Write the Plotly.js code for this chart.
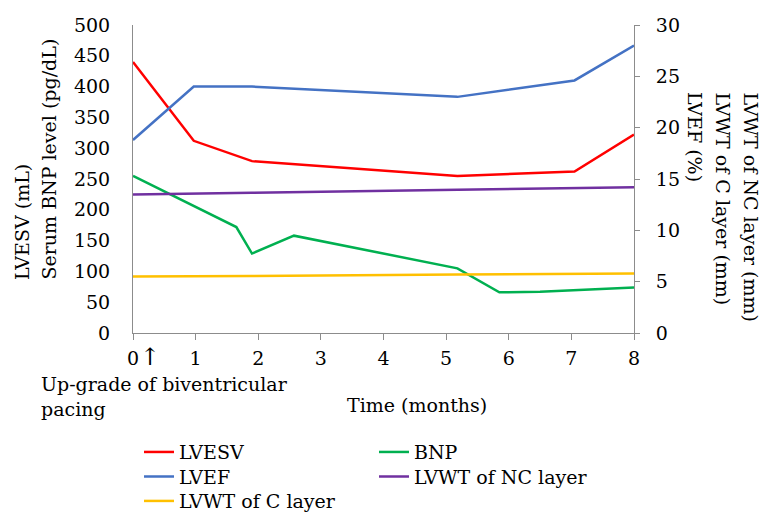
<!DOCTYPE html>
<html>
<head>
<meta charset="utf-8">
<script src="https://cdn.plot.ly/plotly-3.0.1.min.js"></script>
<style>html,body{margin:0;padding:0;background:#fff;}#chart{width:761px;height:515px;}</style>
</head>
<body>
<div id="chart"></div>
<script>
// Time points (months)
const monthsMain = [0, 0.97, 1.9, 5.18, 7.05, 8];
const monthsBNP = [0, 1.65, 1.9, 2.57, 5.18, 5.85, 6.5, 7.05, 8];
// Series values
const lvesv = [440, 312, 279, 255, 262, 322];          // mL (left axis)
const bnp = [255, 172, 129, 158, 105, 66, 67, 70, 74]; // pg/dL (left axis)
const lvef = [18.8, 24.0, 24.0, 23.0, 24.6, 28.0];     // % (right axis)
const lvwtNC = [13.5, 13.6, 13.65, 13.95, 14.1, 14.2]; // mm (right axis)
const lvwtC = [5.5, 5.52, 5.55, 5.7, 5.78, 5.8];       // mm (right axis)
// Tick labels
const xTicks = [0, 1, 2, 3, 4, 5, 6, 7, 8];
const leftTicks = [0, 50, 100, 150, 200, 250, 300, 350, 400, 450, 500];
const rightTicks = [0, 5, 10, 15, 20, 25, 30];

const FONT = 'DejaVu Serif, serif';
const FS = 19;
const W = 2.5;
const LEGW = 190;

const traces = [
  {x: monthsMain, y: lvesv, name: 'LVESV', mode: 'lines', line: {color: '#FF0000', width: W}, yaxis: 'y', legend: 'legend'},
  {x: monthsBNP, y: bnp, name: 'BNP', mode: 'lines', line: {color: '#00B050', width: W}, yaxis: 'y', legend: 'legend'},
  {x: monthsMain, y: lvef, name: 'LVEF', mode: 'lines', line: {color: '#4472C4', width: W}, yaxis: 'y2', legend: 'legend2'},
  {x: monthsMain, y: lvwtNC, name: 'LVWT of NC layer', mode: 'lines', line: {color: '#7030A0', width: W}, yaxis: 'y2', legend: 'legend2'},
  {x: monthsMain, y: lvwtC, name: 'LVWT of C layer', mode: 'lines', line: {color: '#FFC000', width: W}, yaxis: 'y2', legend: 'legend3'}
];

function legendRow(y) {
  return {
    orientation: 'h', x: 0.012, xanchor: 'left', y: y, yanchor: 'top',
    entrywidth: LEGW, entrywidthmode: 'pixels', itemwidth: 30,
    font: {family: FONT, size: FS, color: '#000'}, bgcolor: 'rgba(0,0,0,0)'
  };
}

// paper coords from pixel positions of the plot area (l=133, w=501, bottom=333, h=308)
const px = v => (v - 133) / 501;
const py = v => (333 - v) / 308;

function ann(text, x, y, opts) {
  return Object.assign({text: text, xref: 'paper', yref: 'paper', x: x, y: y,
    showarrow: false, font: {family: FONT, size: FS, color: '#000'}}, opts);
}

const layout = {
  width: 761, height: 515,
  margin: {l: 133, r: 127, t: 25, b: 182, autoexpand: false},
  paper_bgcolor: '#fff', plot_bgcolor: '#fff',
  font: {family: FONT, size: FS, color: '#000'},
  showlegend: true,
  xaxis: {
    range: [0, 8], tickvals: xTicks, ticktext: xTicks.map(String),
    showgrid: false, zeroline: false, showline: true, linecolor: '#8c8c8c', linewidth: 1,
    ticks: 'outside', ticklen: 6, tickcolor: '#8c8c8c', ticklabelstandoff: 2,
    tickfont: {family: FONT, size: FS, color: '#000'}
  },
  yaxis: {
    range: [0, 500], tickvals: leftTicks, ticktext: leftTicks.map(String),
    showgrid: false, zeroline: false, showline: true, linecolor: '#8c8c8c', linewidth: 1,
    ticks: '', ticklabelstandoff: 18,
    tickfont: {family: FONT, size: FS, color: '#000'}
  },
  yaxis2: {
    range: [0, 30], tickvals: rightTicks, ticktext: rightTicks.map(String),
    overlaying: 'y', side: 'right',
    showgrid: false, zeroline: false, showline: true, linecolor: '#8c8c8c', linewidth: 1,
    ticks: 'outside', ticklen: 5, tickcolor: '#8c8c8c', ticklabelstandoff: 12,
    tickfont: {family: FONT, size: FS, color: '#000'}
  },
  legend: legendRow(-0.325),
  legend2: legendRow(-0.405),
  legend3: legendRow(-0.484),
  annotations: [
    ann('LVESV (mL)', px(22), py(282), {textangle: -90, xanchor: 'center', yanchor: 'bottom'}),
    ann('Serum BNP level (pg/dL)', px(48), py(282), {textangle: -90, xanchor: 'center', yanchor: 'bottom'}),
    ann('LVEF (%)', px(695), py(90), {textangle: 90, xanchor: 'center', yanchor: 'top'}),
    ann('LVWT of C layer (mm)', px(723), py(90), {textangle: 90, xanchor: 'center', yanchor: 'top'}),
    ann('LVWT of NC layer (mm)', px(751), py(90), {textangle: 90, xanchor: 'center', yanchor: 'top'}),
    ann('Time (months)', px(417), py(405), {xanchor: 'center', yanchor: 'middle'}),
    ann('↑', px(150), py(357), {xanchor: 'center', yanchor: 'middle', font: {family: FONT, size: 24, color: '#000'}}),
    ann('Up-grade of biventricular<br>pacing', px(39), py(396), {align: 'left', xanchor: 'left', yanchor: 'middle'})
  ]
};

Plotly.newPlot('chart', traces, layout, {displayModeBar: false, staticPlot: true});
</script>
</body>
</html>
